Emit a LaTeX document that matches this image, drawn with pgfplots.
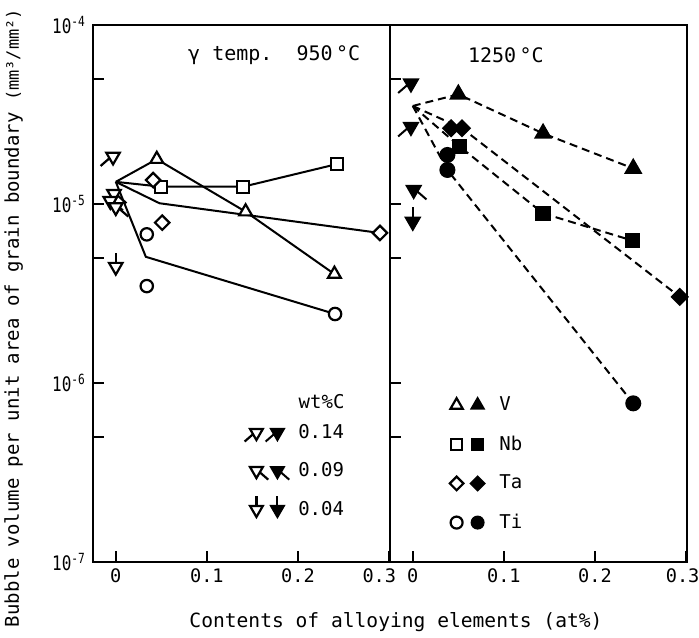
\documentclass[border=0pt]{standalone}
\usepackage{fontspec}
\setmainfont{DejaVu Sans Mono}
\newfontfamily\cond{DejaVu Sans Mono}[FakeStretch=0.8]
\usepackage{pgfplots}
\pgfplotsset{compat=1.18}

% down triangle with a short tail, for the carbon levels
\newcommand\dtri{%
  \pgfpathmoveto{\pgfqpoint{-0.866\pgfplotmarksize}{0.5\pgfplotmarksize}}%
  \pgfpathlineto{\pgfqpoint{0.866\pgfplotmarksize}{0.5\pgfplotmarksize}}%
  \pgfpathlineto{\pgfqpoint{0pt}{-\pgfplotmarksize}}%
  \pgfpathclose\pgfusepathqfillstroke}
\pgfdeclareplotmark{cA}{\dtri
  \pgfpathmoveto{\pgfqpoint{-0.45\pgfplotmarksize}{-0.2\pgfplotmarksize}}%
  \pgfpathlineto{\pgfqpoint{-1.6\pgfplotmarksize}{-1.2\pgfplotmarksize}}%
  \pgfusepathqstroke}
\pgfdeclareplotmark{cB}{\dtri
  \pgfpathmoveto{\pgfqpoint{0.45\pgfplotmarksize}{-0.2\pgfplotmarksize}}%
  \pgfpathlineto{\pgfqpoint{1.6\pgfplotmarksize}{-1.2\pgfplotmarksize}}%
  \pgfusepathqstroke}
\pgfdeclareplotmark{cC}{\dtri
  \pgfpathmoveto{\pgfqpoint{0pt}{0.5\pgfplotmarksize}}%
  \pgfpathlineto{\pgfqpoint{0pt}{1.8\pgfplotmarksize}}%
  \pgfusepathqstroke}
% square-ish diamond
\pgfdeclareplotmark{cD}{%
  \pgfpathmoveto{\pgfqpoint{0pt}{\pgfplotmarksize}}%
  \pgfpathlineto{\pgfqpoint{\pgfplotmarksize}{0pt}}%
  \pgfpathlineto{\pgfqpoint{0pt}{-\pgfplotmarksize}}%
  \pgfpathlineto{\pgfqpoint{-\pgfplotmarksize}{0pt}}%
  \pgfpathclose\pgfusepathqfillstroke}

\pgfplotsset{
  bvlin/.style={line width=1pt, black, mark=none},
  bvdsh/.style={line width=1pt, black, dash pattern=on 4pt off 2.5pt, mark=none},
  bvop/.style={only marks, black, mark options={fill=white, line width=1.1pt, solid}},
  bvfl/.style={only marks, black, mark options={fill=black, line width=1pt, solid}},
  % legend picture: open and filled version of one mark
  bvtwo/.style 2 args={legend image code/.code={%
    \draw[mark=#1, mark size=#2, mark options={fill=white, line width=1.1pt, solid}] plot coordinates {(0pt,0pt)};%
    \draw[mark=#1, mark size=#2, mark options={fill=black, line width=1pt, solid}] plot coordinates {(10.5pt,0pt)};}},
}

\begin{document}
\begin{tikzpicture}
% ---------- 950 C ----------
\begin{axis}[name=lp,
  scale only axis, width=148.5pt, height=268.5pt,
  ymode=log, ymin=1e-7, ymax=1e-4,
  xmin=-0.025, xmax=0.301,
  axis line style={line width=1.1pt},
  tick align=inside, xtick pos=bottom, ytick pos=left,
  major tick length=5.5pt, tick style={line width=0.9pt, black},
  xminorticks=false, yminorticks=false,
  xtick={0,0.1,0.2,0.3},
  ytick={1e-7,5e-7,1e-6,5e-6,1e-5,5e-5,1e-4},
  x tick label style={font=\fontsize{9.3}{10}\selectfont},
  y tick label style={font=\cond\fontsize{10}{11}\selectfont},
  clip=false,
  xticklabels={0,0.1,0.2,\llap{0.3\hspace*{-3.5pt}}},
  yticklabels={10\textsuperscript{-7},,10\textsuperscript{-6},,10\textsuperscript{-5},,10\textsuperscript{-4}},
  legend cell align=left,
  legend style={draw=none, fill=none, font=\fontsize{9.5}{11}\selectfont, row sep=6.5pt, inner sep=0pt,
    at={(0.86,0.265)}, anchor=north east},
]
\addplot[bvlin, forget plot] coordinates {(0,1.33e-5) (0.045,1.78e-5) (0.1425,9.06e-6) (0.24,4.06e-6)};
\addplot[bvlin, forget plot] coordinates {(0,1.33e-5) (0.0495,1.25e-5) (0.14,1.25e-5) (0.2425,1.67e-5)};
\addplot[bvlin, forget plot] coordinates {(0,1.33e-5) (0.048,1.01e-5) (0.29,6.89e-6)};
\addplot[bvlin, forget plot] coordinates {(0,1.33e-5) (0.033,5.07e-6) (0.2407,2.43e-6)};
\addplot[bvop, forget plot, mark=triangle*, mark size=3.7pt] coordinates {(0.045,1.78e-5) (0.1425,9.06e-6) (0.24,4.06e-6)};
\addplot[bvop, forget plot, mark=square*, mark size=3pt] coordinates {(0.0495,1.25e-5) (0.14,1.25e-5) (0.2425,1.67e-5)};
\addplot[bvop, forget plot, mark=cD, mark size=3.6pt] coordinates {(0.041,1.36e-5) (0.051,7.87e-6) (0.29,6.89e-6)};
\addplot[bvop, forget plot, mark=*, mark size=3.1pt] coordinates {(0.034,6.77e-6) (0.034,3.48e-6) (0.2407,2.43e-6)};
\addplot[bvop, forget plot, mark=cA, mark size=3.9pt] coordinates {(-0.003,1.84e-5)};
\addplot[bvop, forget plot, mark=cB, mark size=3.9pt] coordinates {(-0.002,1.14e-5) (-0.006,1.04e-5) (0.0,9.6e-6)};
\addplot[bvop, forget plot, mark=cC, mark size=3.9pt] coordinates {(0,4.46e-6)};
\node[font=\fontsize{10}{12}\selectfont] at (rel axis cs:0.61,0.944) {γ temp.\ \ 950\,°C};
\node[font=\fontsize{9.5}{11}\selectfont, anchor=east, inner sep=0pt] at (rel axis cs:0.848,0.298) {wt\%C};
\addlegendimage{bvtwo={cA}{3.7pt}}\addlegendentry{\hspace*{2.5pt}0.14}
\addlegendimage{bvtwo={cB}{3.7pt}}\addlegendentry{\hspace*{2.5pt}0.09}
\addlegendimage{bvtwo={cC}{3.7pt}}\addlegendentry{\hspace*{2.5pt}0.04}
\end{axis}

% ---------- 1250 C ----------
\begin{axis}[name=rp, at={(lp.south east)}, anchor=south west,
  scale only axis, width=148.5pt, height=268.5pt,
  ymode=log, ymin=1e-7, ymax=1e-4,
  xmin=-0.025, xmax=0.301,
  axis line style={line width=1.1pt},
  tick align=inside, xtick pos=bottom, ytick pos=left,
  major tick length=5.5pt, tick style={line width=0.9pt, black},
  xminorticks=false, yminorticks=false,
  xtick={0,0.1,0.2,0.3},
  ytick={1e-7,5e-7,1e-6,5e-6,1e-5,5e-5,1e-4},
  x tick label style={font=\fontsize{9.3}{10}\selectfont},
  clip=false,
  xticklabels={0,0.1,0.2,\hspace*{-3.5pt}0.3},
  yticklabels={},
  legend cell align=left,
  legend style={draw=none, fill=none, font=\fontsize{9.5}{11}\selectfont, row sep=7pt, inner sep=0pt,
    at={(0.2,0.316)}, anchor=north west},
]
\addplot[bvdsh, forget plot] coordinates {(0,3.53e-5) (0.05,4.1e-5) (0.143,2.48e-5) (0.242,1.58e-5)};
\addplot[bvdsh, forget plot] coordinates {(0,3.53e-5) (0.0517,2.09e-5) (0.143,8.87e-6) (0.2415,6.24e-6)};
\addplot[bvdsh, forget plot] coordinates {(0,3.53e-5) (0.054,2.65e-5) (0.293,3.03e-6)};
\addplot[bvdsh, forget plot] coordinates {(0,3.53e-5) (0.038,1.55e-5) (0.242,7.7e-7)};
\addplot[bvfl, forget plot, mark=triangle*, mark size=4.3pt] coordinates {(0.05,4.1e-5) (0.143,2.48e-5) (0.242,1.58e-5)};
\addplot[bvfl, forget plot, mark=square*, mark size=3.3pt] coordinates {(0.0517,2.09e-5) (0.143,8.87e-6) (0.2415,6.24e-6)};
\addplot[bvfl, forget plot, mark=cD, mark size=3.9pt] coordinates {(0.042,2.65e-5) (0.054,2.65e-5) (0.293,3.03e-6)};
\addplot[bvfl, forget plot, mark=*, mark size=3.5pt] coordinates {(0.038,1.88e-5) (0.038,1.55e-5) (0.242,7.7e-7)};
\addplot[bvfl, forget plot, mark=cA, mark size=4pt] coordinates {(-0.002,4.72e-5) (-0.002,2.7e-5)};
\addplot[bvfl, forget plot, mark=cB, mark size=4pt] coordinates {(0.001,1.2e-5)};
\addplot[bvfl, forget plot, mark=cC, mark size=4pt] coordinates {(0,7.97e-6)};
\node[font=\fontsize{10}{12}\selectfont] at (rel axis cs:0.39,0.944) {1250\,°C};
\addlegendimage{bvtwo={triangle*}{3.5pt}}\addlegendentry{\hspace*{5.5pt}V}
\addlegendimage{bvtwo={square*}{2.8pt}}\addlegendentry{\hspace*{5.5pt}Nb}
\addlegendimage{bvtwo={cD}{3.4pt}}\addlegendentry{\hspace*{5.5pt}Ta}
\addlegendimage{bvtwo={*}{3pt}}\addlegendentry{\hspace*{5.5pt}Ti}
\end{axis}

\node[font=\fontsize{9.8}{12}\selectfont, anchor=base] at ([xshift=3pt, yshift=-32.5pt]lp.south east) {Contents of alloying elements (at\%)};
\node[rotate=90, anchor=base, font=\fontsize{9.5}{11}\selectfont] at ([xshift=-37pt, yshift=122pt]lp.south west) {Bubble volume per unit area of grain boundary {\fontsize{8.5}{10}\selectfont(mm³/mm²)}};

\pgfresetboundingbox
\path[use as bounding box] ([xshift=-46.5pt,yshift=-37.5pt]lp.south west) rectangle ++(349.5pt,318.5pt);
\end{tikzpicture}
\end{document}
